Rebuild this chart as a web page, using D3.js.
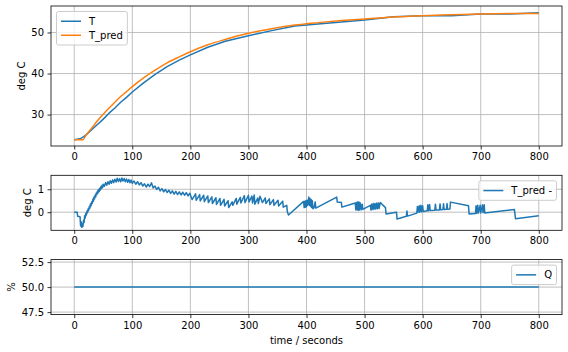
<!DOCTYPE html>
<html>
<head>
<meta charset="utf-8">
<script src="https://cdn.jsdelivr.net/npm/d3@7"></script>
<style>
  body { margin: 0; background: #fff; }
  svg { display: block; font-family: "DejaVu Sans", sans-serif; }
</style>
</head>
<body>
<div id="data-viz"></div>
<script>

// temperature panel: time (s), predicted and measured temperature (deg C)
const time  = [0, 10, 15, 20, 30, 40, 50, 60, 70, 80, 90, 100, 120, 140, 160, 180, 200, 230, 260, 300, 340, 380, 420, 460, 500, 550, 600, 650, 700, 750, 800]
const tPred = [23.9, 23.9, 23.9, 24.9, 26.7, 28.5, 30.1, 31.6, 33.0, 34.4, 35.6, 36.8, 39.0, 40.9, 42.6, 44.0, 45.3, 47.0, 48.3, 49.8, 50.9, 51.8, 52.4, 52.9, 53.3, 53.8, 54.1, 54.3, 54.5, 54.6, 54.65]
const tMeas = [23.9, 24.1, 24.5, 25.0, 26.3, 27.6, 28.9, 30.35, 31.6, 33.0, 34.2, 35.5, 37.8, 39.85, 41.7, 43.2, 44.55, 46.4, 47.85, 49.2, 50.45, 51.6, 52.05, 52.55, 53.05, 53.85, 54.1, 54.1, 54.5, 54.5, 54.8]

// error panel: T_pred - T
const errTime = [0, 5, 6, 10, 11, 12, 13, 14, 15, 16, 17, 18, 19, 20,
  21, 22, 23, 24, 25, 26, 27, 28, 29, 30, 31, 32, 33, 34, 35, 36, 37, 38, 39, 40, 41, 42, 43, 44, 45, 46, 47, 48, 49, 50,
  52, 54, 56, 58, 60, 62, 64, 66, 68, 70, 72, 74, 76, 78, 80, 82, 84, 86, 88, 90, 92, 94, 96, 98, 100,
  103, 106, 109, 112, 115, 118, 121, 124, 127, 130, 133, 136, 139, 142, 145, 148, 151, 154, 157, 160,
  163, 166, 169, 172, 175, 178, 181, 184, 187, 190, 193, 196, 199,
  203, 209, 210, 216, 217, 223, 224, 230, 231, 237, 238, 244, 245, 251, 252, 258, 259, 265, 266, 272, 273, 279, 280,
  286, 287, 293, 294, 300, 301, 306, 307, 310, 311, 316, 317, 320,
  324, 329, 330, 336, 337, 343, 344, 351, 352, 359, 360, 366, 367, 369,
  395, 396, 397, 398, 399, 400, 401, 402, 404, 405, 406, 407, 408, 409, 410, 411, 413, 415, 416,
  452, 453, 460, 461, 484, 485, 486, 487, 488, 489, 490, 491, 492, 493, 494, 496, 497,
  510, 511, 512, 513, 515, 516, 518, 519, 521, 522, 524, 525, 527, 536, 537, 555, 556, 572, 573, 574,
  590, 591, 592, 594, 595, 597, 598, 600, 601, 608, 609, 610, 612, 613, 621, 622, 623, 629, 630, 631,
  635, 636, 637, 641, 642, 643, 647, 648, 679, 680, 691, 692, 693, 695, 696, 699, 700, 703, 704, 706, 707,
  758, 760, 800]
const errVal = [0, 0, -0.18, -0.2, -0.6, -0.42, -0.66, -0.5, -0.62, -0.35, -0.45, -0.15, -0.25, -0.05,
  -0.12, 0.05, -0.02, 0.15, 0.08, 0.25, 0.18, 0.36, 0.28, 0.45, 0.38, 0.56, 0.48, 0.66, 0.58, 0.75, 0.67, 0.84, 0.77, 0.92, 0.84, 0.99, 0.9, 1.05, 0.97, 1.12, 1.03, 1.17, 1.08, 1.22,
  1.13, 1.29, 1.18, 1.33, 1.22, 1.37, 1.26, 1.41, 1.29, 1.44, 1.32, 1.48, 1.34, 1.46, 1.33, 1.49, 1.36, 1.47, 1.33, 1.45, 1.31, 1.43, 1.29, 1.4, 1.26,
  1.36, 1.22, 1.33, 1.19, 1.29, 1.14, 1.24, 1.1, 1.22, 1.12, 1.28, 1.06, 1.14, 0.99, 1.09, 0.93, 1.03, 0.89, 0.99, 0.86,
  0.96, 0.82, 0.93, 0.79, 0.91, 0.77, 0.89, 0.75, 0.87, 0.74, 0.85, 0.71, 0.83,
  0.55, 0.8, 0.52, 0.77, 0.49, 0.74, 0.46, 0.71, 0.42, 0.67, 0.38, 0.63, 0.34, 0.6, 0.3, 0.56, 0.27, 0.5, 0.2, 0.45, 0.3, 0.6, 0.35,
  0.65, 0.4, 0.72, 0.42, 0.74, 0.45, 0.7, 0.4, 0.75, 0.35, 0.62, 0.38, 0.7,
  0.42, 0.62, 0.38, 0.58, 0.33, 0.55, 0.3, 0.52, 0.27, 0.48, 0.22, 0.3, 0.02, -0.12,
  0.47, 0.2, 0.48, 0.22, 0.5, 0.24, 0.52, 0.3, 0.66, 0.3, 0.6, 0.25, 0.55, 0.2, 0.5, 0.15, 0.2, 0.45, 0.18,
  0.66, 0.44, 0.42, 0.22, 0.4, 0.1, 0.42, 0.12, 0.44, 0.08, 0.45, 0.1, 0.42, 0.35, 0.1, 0.35, 0.12,
  0.3, 0.1, 0.35, 0.12, 0.38, 0.12, 0.38, 0.14, 0.4, 0.15, 0.4, 0.16, 0.42, 0.2, -0.08, 0.0, -0.3, -0.18, 0.05, -0.17,
  -0.04, 0.25, 0.0, 0.28, 0.0, 0.3, 0.02, 0.28, 0.03, 0.06, 0.32, 0.06, 0.33, 0.07, 0.09, 0.35, 0.1, 0.1, 0.36, 0.11,
  0.12, 0.37, 0.12, 0.13, 0.38, 0.13, 0.14, 0.44, 0.28, -0.08, -0.06, 0.28, -0.05, 0.3, -0.04, 0.3, -0.03, 0.32, -0.02, 0.32, -0.03,
  0.12, -0.29, -0.15]

// heater panel
const qTime = [0, 800]
const qVal  = [50, 50]

// ticks
const xTicks    = [0, 100, 200, 300, 400, 500, 600, 700, 800]
const tempTicks = [30, 40, 50]
const errTicks  = [0, 1]
const qTicks    = [47.5, 50, 52.5]

var app = {

	settings: {},

	init: () => {

		app.settings.width = 568
		app.settings.height = 352
		app.settings.left = 51
		app.settings.right = 562

		app.svg = d3.select("#data-viz").append("svg")
			.attr("width", app.settings.width)
			.attr("height", app.settings.height)

		app.x = d3.scaleLinear().domain([-40, 840]).range([app.settings.left, app.settings.right])

		app.create()

	},

	create: () => {

		app.panel({
			top: 6, bottom: 146, domain: [22.35, 56.45], ticks: tempTicks, fmt: d3.format("d"), label: "deg C",
			series: [
				{ x: time, y: tMeas, color: "#1f77b4", name: "T" },
				{ x: time, y: tPred, color: "#ff7f0e", name: "T_pred", curve: d3.curveMonotoneX }
			],
			legend: "left"
		})

		app.panel({
			top: 175.3, bottom: 230.3, domain: [-0.79, 1.61], ticks: errTicks, fmt: d3.format("d"), label: "deg C",
			series: [ { x: errTime, y: errVal, color: "#1f77b4", name: "T_pred -" } ],
			legend: "right"
		})

		var g = app.panel({
			top: 259.6, bottom: 314.6, domain: [47.25, 52.75], ticks: qTicks, fmt: d3.format(".1f"), label: "%",
			series: [ { x: qTime, y: qVal, color: "#1f77b4", name: "Q" } ],
			legend: "right"
		})

		app.svg.append("text")
			.attr("x", (app.settings.left + app.settings.right) / 2)
			.attr("y", 314.6 + 29)
			.attr("text-anchor", "middle")
			.attr("font-size", 10)
			.attr("fill", "#000")
			.text("time / seconds")

	},

	panel: (p) => {

		var x = app.x
		var y = d3.scaleLinear().domain(p.domain).range([p.bottom, p.top])
		var g = app.svg.append("g")

		// grid
		g.selectAll(".vgrid").data(xTicks).join("line")
			.attr("x1", d => x(d)).attr("x2", d => x(d))
			.attr("y1", p.top).attr("y2", p.bottom)
			.attr("stroke", "#b0b0b0").attr("stroke-width", 0.8)

		g.selectAll(".hgrid").data(p.ticks).join("line")
			.attr("x1", app.settings.left).attr("x2", app.settings.right)
			.attr("y1", d => y(d)).attr("y2", d => y(d))
			.attr("stroke", "#b0b0b0").attr("stroke-width", 0.8)

		// lines
		p.series.forEach((s) => {
			var line = d3.line()
				.x((d, i) => x(s.x[i]))
				.y(d => y(d))
				.curve(s.curve || d3.curveLinear)
			g.append("path")
				.datum(s.y)
				.attr("d", line)
				.attr("fill", "none")
				.attr("stroke", s.color)
				.attr("stroke-width", 1.5)
				.attr("stroke-linejoin", "round")
		})

		// axes
		var xa = g.append("g").attr("transform", `translate(0,${p.bottom})`)
			.call(d3.axisBottom(x).tickValues(xTicks).tickSize(3.5).tickPadding(3.5).tickFormat(d3.format("d")))
		var ya = g.append("g").attr("transform", `translate(${app.settings.left},0)`)
			.call(d3.axisLeft(y).tickValues(p.ticks).tickSize(3.5).tickPadding(3.5).tickFormat(p.fmt))

		;[xa, ya].forEach((a) => {
			a.attr("font-family", null).attr("font-size", 10)
			a.select(".domain").remove()
			a.selectAll(".tick line").attr("stroke", "#000").attr("stroke-width", 0.8)
			a.selectAll(".tick text").attr("fill", "#000")
		})

		// frame
		g.append("rect")
			.attr("x", app.settings.left).attr("y", p.top)
			.attr("width", app.settings.right - app.settings.left).attr("height", p.bottom - p.top)
			.attr("fill", "none").attr("stroke", "#000").attr("stroke-width", 0.8)

		// y label placed left of tick labels
		var minX = d3.min(ya.selectAll(".tick text").nodes(), n => n.getBBox().x) + app.settings.left
		g.append("text")
			.attr("transform", `translate(${minX - 6.4},${(p.top + p.bottom) / 2}) rotate(-90)`)
			.attr("text-anchor", "middle")
			.attr("font-size", 10)
			.attr("fill", "#000")
			.text(p.label)

		app.legend(g, p)

		return g

	},

	legend: (g, p) => {

		var lg = g.append("g")
		var rect = lg.append("rect")
			.attr("fill", "#fff").attr("fill-opacity", 0.8)
			.attr("stroke", "#cccccc").attr("stroke-width", 1)
			.attr("rx", 2).attr("ry", 2)

		var widths = []
		p.series.forEach((s, i) => {
			var cy = 9.75 + 14 * i
			lg.append("line")
				.attr("x1", 4.5).attr("x2", 24.5)
				.attr("y1", cy).attr("y2", cy)
				.attr("stroke", s.color).attr("stroke-width", 1.5)
			var t = lg.append("text")
				.attr("x", 32.5).attr("y", cy).attr("dy", "0.35em")
				.attr("font-size", 10).attr("fill", "#000")
				.text(s.name)
			widths.push(t.node().getComputedTextLength())
		})

		var w = 32.5 + d3.max(widths) + 4.5
		var h = 19.5 + 14 * (p.series.length - 1)
		rect.attr("width", w).attr("height", h)

		var lx = (p.legend === "left") ? app.settings.left + 5.5 : app.settings.right - 5.5 - w
		lg.attr("transform", `translate(${lx},${p.top + 5.5})`)

	}

}

app.init()

</script>
</body>
</html>
